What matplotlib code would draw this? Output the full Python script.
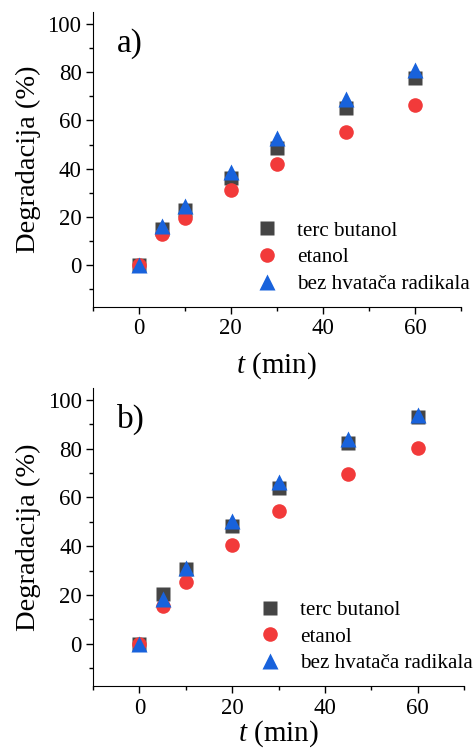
import matplotlib
matplotlib.use("Agg")
import matplotlib.pyplot as plt
from matplotlib.ticker import MultipleLocator

plt.rcParams.update({
    "font.family": "Liberation Serif",
    "mathtext.fontset": "custom",
    "mathtext.it": "Liberation Serif:italic",
    "mathtext.rm": "Liberation Serif",
})

# time points (min)
t = [0, 5, 10, 20, 30, 45, 60]

# panel a)
a_terc = [0, 15.0, 23.0, 36.0, 48.6, 65.0, 77.6]
a_etanol = [0, 12.8, 19.7, 31.2, 42.1, 55.2, 66.6]
a_bez = [0, 16.2, 24.6, 38.6, 52.8, 69.0, 81.0]

# panel b)
b_terc = [0, 20.4, 30.5, 48.4, 63.7, 82.4, 92.8]
b_etanol = [0, 15.6, 25.1, 40.4, 54.4, 69.5, 80.3]
b_bez = [0, 18.4, 30.9, 50.3, 66.2, 84.0, 93.6]

labels = ["terc butanol", "etanol", "bez hvatača radikala"]
panels = ["a)", "b)"]

fig = plt.figure(figsize=(4.75, 7.51), dpi=100)
ax1 = fig.add_axes([0.195, 0.591, 0.776, 0.393])
ax2 = fig.add_axes([0.196, 0.086, 0.781, 0.398])

for ax, (terc, etanol, bez), lab, xpad in zip(
        [ax1, ax2],
        [(a_terc, a_etanol, a_bez), (b_terc, b_etanol, b_bez)],
        panels, [8, 0]):
    ax.plot(t, terc, "s", color="#454545", ms=9.5, mec="none", label=labels[0])
    ax.plot(t, etanol, "o", color="#f23a3a", ms=10.5, mec="none", label=labels[1])
    ax.plot(t, bez, "^", color="#1862dc", ms=12, mec="none", label=labels[2])

    ax.set_xlim(-10, 70)
    ax.set_ylim(-17.5, 105)
    ax.xaxis.set_major_locator(MultipleLocator(20))
    ax.xaxis.set_minor_locator(MultipleLocator(10))
    ax.yaxis.set_major_locator(MultipleLocator(20))
    ax.yaxis.set_minor_locator(MultipleLocator(10))
    ax.set_yticks([0, 20, 40, 60, 80, 100])
    ax.spines["top"].set_visible(False)
    ax.spines["right"].set_visible(False)
    ax.tick_params(which="major", direction="out", length=5, width=1,
                   labelsize=16.5, pad=3)
    ax.tick_params(which="minor", direction="out", length=3, width=1)

    ax.set_xlabel("$t$ (min)", fontsize=21, labelpad=xpad)
    ax.set_ylabel("Degradacija (%)", fontsize=20.5, labelpad=5)
    ax.text(0.065, 0.945, lab, transform=ax.transAxes, fontsize=24,
            va="top", ha="left")
    ax.legend(loc="lower right", bbox_to_anchor=(1.075, -0.02), frameon=False,
              fontsize=15.2, handletextpad=0.75, labelspacing=0.33,
              handlelength=1.4)

fig.savefig("out.png", dpi=100)
